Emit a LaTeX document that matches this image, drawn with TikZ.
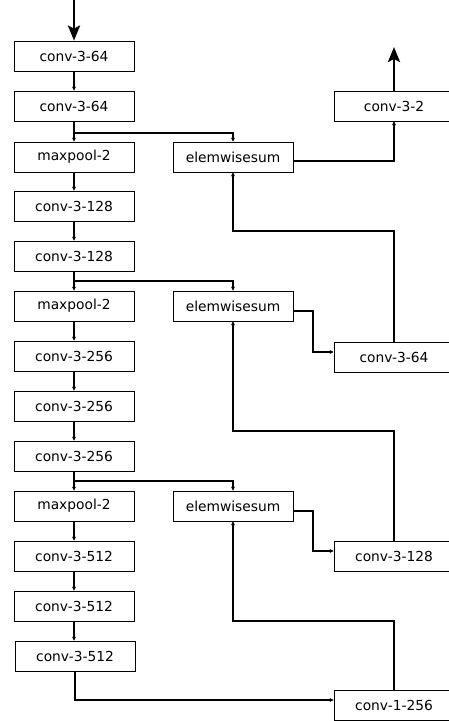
\documentclass[tikz,border=0pt]{standalone}
\usepackage{fontspec}
\setmainfont{DejaVu Sans}
\usetikzlibrary{arrows.meta}
\begin{document}
\begin{tikzpicture}[x=1pt,y=-1pt,
 box/.style={draw, line width=0.8pt, minimum width=120pt, minimum height=30pt, inner sep=0pt, font=\fontsize{13.8}{15}\selectfont},
 conn/.style={line width=2pt, -{Stealth[length=4pt,width=4pt]}},
 bigarrow/.style={line width=2.8pt, -{Stealth[length=15pt,width=12pt,inset=3pt]}}]
\useasboundingbox (0,0) rectangle (449,721);
% left column
\node[box] (a1) at (74,56) {conv-3-64};
\node[box] (a2) at (74,106) {conv-3-64};
\node[box] (a3) at (74,157) {maxpool-2};
\node[box] (a4) at (74,206) {conv-3-128};
\node[box] (a5) at (74,256) {conv-3-128};
\node[box] (a6) at (74,306) {maxpool-2};
\node[box] (a7) at (74,356) {conv-3-256};
\node[box] (a8) at (74,406) {conv-3-256};
\node[box] (a9) at (74,456) {conv-3-256};
\node[box] (a10) at (74,506) {maxpool-2};
\node[box] (a11) at (74,556) {conv-3-512};
\node[box] (a12) at (74,606) {conv-3-512};
\node[box] (a13) at (75,656) {conv-3-512};
% middle column
\node[box] (e1) at (233,157) {elemwisesum};
\node[box] (e2) at (233,306) {elemwisesum};
\node[box] (e3) at (233,506) {elemwisesum};
% right column
\node[box] (r2) at (394,106) {conv-3-2};
\node[box] (r64) at (394,357) {conv-3-64};
\node[box] (r128) at (394,556) {conv-3-128};
\node[box] (r256) at (394,705) {conv-1-256};
% input / output
\coordinate (in) at (74,0);
\coordinate (out) at (394,47);
\draw[bigarrow] (in) -- (a1.north);
\draw[bigarrow] (r2.north) -- (out);
% chain
\foreach \p/\q in {a1/a2,a2/a3,a3/a4,a4/a5,a5/a6,a6/a7,a7/a8,a8/a9,a9/a10,a10/a11,a11/a12}
  \draw[conn] (\p.south) -- (\q.north);
\draw[conn] (a12.south) -- (a12.south |- a13.north);
% skip branches
\draw[conn] (a2.south) -- ++(0,12) -| (e1.north);
\draw[conn] (a5.south) -- ++(0,10) -| (e2.north);
\draw[conn] (a9.south) -- ++(0,10) -| (e3.north);
% sums to right
\draw[conn] ([yshift=-4pt]e1.east) -| (r2.south);
\draw[conn] ([yshift=-5pt]e2.east) -- ++(20,0) |- ([yshift=5pt]r64.west);
\draw[conn] ([yshift=-5pt]e3.east) -- ++(20,0) |- ([yshift=5pt]r128.west);
\draw[conn] (a13.south) |- ([yshift=5pt]r256.west);
% returns
\draw[conn] (r64.north) -- ++(0,-111) -| (e1.south);
\draw[conn] (r128.north) -- ++(0,-110) -| (e2.south);
\draw[conn] (r256.north) -- ++(0,-69) -| (e3.south);
\end{tikzpicture}
\end{document}
